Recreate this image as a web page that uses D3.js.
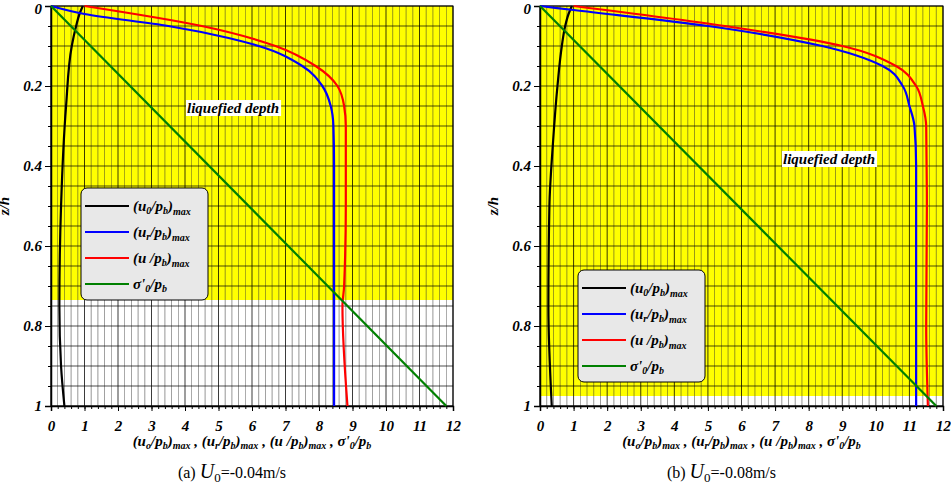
<!DOCTYPE html>
<html><head><meta charset="utf-8">
<script src="https://cdn.jsdelivr.net/npm/d3@7"></script>
<style>body{margin:0;background:#fff}text{font-family:"Liberation Serif","Times New Roman",serif}</style>
</head><body><svg id="c" width="951" height="494"></svg>
<script>
const xTicks=[0,1,2,3,4,5,6,7,8,9,10,11,12];
const yTicks=[0,0.2,0.4,0.6,0.8,1];
// panel (a)
const a_u0_z=[0,0.02,0.05,0.1,0.25,0.5,0.75,0.9,1];
const a_u0_x=[0.95,0.85,0.75,0.62,0.45,0.3,0.25,0.3,0.4];
const a_ur_z=[0,0.02,0.05,0.08,0.1,0.15,0.2,0.25,0.3,0.4,1];
const a_ur_x=[0,1.0,3.5,5.3,6.2,7.5,8.1,8.35,8.43,8.45,8.45];
const a_u_z=[0,0.05,0.1,0.15,0.2,0.25,0.3,0.5,0.7,0.75,1];
const a_u_x=[1.0,4.5,6.7,7.9,8.55,8.75,8.8,8.8,8.75,8.7,8.85];
const a_s_z=[0,1]; const a_s_x=[0,11.8];
const a_liq=0.735;
// panel (b)
const b_u0_z=[0,0.02,0.05,0.1,0.2,0.35,0.5,0.75,1];
const b_u0_x=[0.95,0.85,0.75,0.65,0.52,0.38,0.28,0.25,0.35];
const b_ur_z=[0,0.01,0.05,0.1,0.15,0.2,0.25,0.3,0.4,1];
const b_ur_x=[0,1.0,5.0,8.4,10.2,10.8,11.0,11.15,11.2,11.2];
const b_u_z=[0,0.05,0.1,0.15,0.2,0.25,0.3,0.5,0.8,1];
const b_u_x=[1.0,5.5,9.0,10.6,11.2,11.4,11.5,11.52,11.5,11.55];
const b_s_z=[0,1]; const b_s_x=[0,11.8];
const b_liq=0.975;

const svg=d3.select("#c");
function panel(x0,x1,d,cap,legPos,liqPos){
 const x=d3.scaleLinear().domain([0,12]).range([x0,x1]);
 const y=d3.scaleLinear().domain([0,1]).range([6,406]);
 const g=svg.append("g");
 g.append("rect").attr("x",x(0)).attr("y",y(0)).attr("width",x(12)-x(0)).attr("height",y(d.liq)-y(0)).attr("fill","#ffff00");
 for(let i=0;i<=60;i++){const v=i*0.2;g.append("line").attr("x1",x(v)).attr("x2",x(v)).attr("y1",y(0)).attr("y2",y(1)).attr("stroke",i%5==0?"#000":"#333").attr("stroke-width",i%5==0?0.9:0.6).attr("opacity",0.85);}
 for(let i=0;i<=20;i++){const v=i*0.05;g.append("line").attr("x1",x(0)).attr("x2",x(12)).attr("y1",y(v)).attr("y2",y(v)).attr("stroke","#000").attr("stroke-width",0.7);}
 g.append("rect").attr("x",x(0)).attr("y",y(0)).attr("width",x(12)-x(0)).attr("height",y(1)-y(0)).attr("fill","none").attr("stroke","#000").attr("stroke-width",1);
 const ax=g.append("g").attr("transform",`translate(0,${y(1)})`).call(d3.axisBottom(x).tickValues(xTicks).tickSize(5).tickFormat(d3.format("d")));
 g.append("g").attr("transform",`translate(0,${y(1)})`).call(d3.axisBottom(x).tickValues(d3.range(0,12.01,0.2)).tickSize(3).tickFormat("")).select(".domain").remove();
 const ay=g.append("g").attr("transform",`translate(${x(0)},0)`).call(d3.axisLeft(y).tickValues(yTicks).tickSize(6).tickFormat(v=>v==0?"0":v==1?"1":d3.format(".1f")(v)));
 g.append("g").attr("transform",`translate(${x(0)},0)`).call(d3.axisLeft(y).tickValues(d3.range(0,1.001,0.05)).tickSize(3).tickFormat("")).select(".domain").remove();
 g.selectAll(".tick text").attr("font-family","Liberation Serif").attr("font-size",15).attr("font-weight","bold").attr("font-style","italic").attr("fill","#000");
 ax.selectAll(".tick text").attr("dy","1.1em");
 ay.selectAll(".tick").filter(v=>v==0).select("text").attr("dy","0.5em");
 g.selectAll(".domain").attr("stroke","#000").attr("stroke-width",1.5);
 const line=d3.line().x(p=>x(p[0])).y(p=>y(p[1])).curve(d3.curveMonotoneY);
 const series=[[d.u0x,d.u0z,"#000"],[d.urx,d.urz,"#0000ff"],[d.ux,d.uz,"#ff0000"],[d.sx,d.sz,"#008000"]];
 series.forEach(s=>g.append("path").attr("d",line(s[0].map((v,i)=>[v,s[1][i]]))).attr("fill","none").attr("stroke",s[2]).attr("stroke-width",2.2));
 const lbg=g.append("rect").attr("fill","#fff");
 const lt=g.append("text").attr("x",liqPos[0]).attr("y",liqPos[1]).attr("font-size",15).attr("font-weight","bold").attr("font-style","italic").text("liquefied depth");
 const bb=lt.node().getBBox();
 lbg.attr("x",bb.x-1).attr("y",bb.y).attr("width",bb.width+3).attr("height",bb.height);
 const [lx,ly]=legPos;
 g.append("rect").attr("x",lx).attr("y",ly).attr("width",127).attr("height",112).attr("rx",6).attr("fill","#e8e8e8").attr("stroke","#000");
 const labs=[[["(u",15],["0",10,3],["/p",15,-3],["b",10,3],[")",15,-3],["max",10,4]],
  [["(u",15],["r",10,3],["/p",15,-3],["b",10,3],[")",15,-3],["max",10,4]],
  [["(u /p",15],["b",10,3],[")",15,-3],["max",10,4]],
  [["σ'",15],["0",10,3],["/p",15,-3],["b",10,3]]];
 const cols=["#000","#0000ff","#ff0000","#008000"];
 labs.forEach((l,i)=>{const yy=ly+18+i*26;g.append("line").attr("x1",lx+4).attr("x2",lx+48).attr("y1",yy).attr("y2",yy).attr("stroke",cols[i]).attr("stroke-width",2.2);
  const t=g.append("text").attr("x",lx+52).attr("y",yy+5).attr("font-weight","bold").attr("font-style","italic");
  l.forEach(p=>{const s=t.append("tspan").text(p[0]).attr("font-size",p[1]);if(p[2])s.attr("dy",p[2]);});});
 const xl=g.append("text").attr("x",(x0+x1)/2).attr("y",446).attr("text-anchor","middle").attr("font-weight","bold").attr("font-style","italic");
 [["(u",15],["o",10,3],["/p",15,-3],["b",10,3],[")",15,-3],["max",10,3],[" , (u",15,-3],["r",10,3],["/p",15,-3],["b",10,3],[")",15,-3],["max",10,3],[" , (u /p",15,-3],["b",10,3],[")",15,-3],["max",10,3],[" , σ'",15,-3],["0",10,3],["/p",15,-3],["b",10,3]].forEach(p=>{const s=xl.append("tspan").text(p[0]).attr("font-size",p[1]);if(p[2])s.attr("dy",p[2]);});
 g.append("text").attr("transform",`translate(${x0-42},206) rotate(-90)`).attr("text-anchor","middle").attr("font-size",15).attr("font-weight","bold").attr("font-style","italic").text("z/h");
 const c=g.append("text").attr("x",(x0+x1)/2-20).attr("y",478).attr("text-anchor","middle").attr("font-size",16);
 c.append("tspan").text(cap[0]+"   ");c.append("tspan").text("U").attr("font-style","italic").attr("font-size",20);c.append("tspan").text("0").attr("font-size",13).attr("dy",4);c.append("tspan").text(cap[1]).attr("dy",-4);
}
panel(51,453,{u0x:a_u0_x,u0z:a_u0_z,urx:a_ur_x,urz:a_ur_z,ux:a_u_x,uz:a_u_z,sx:a_s_x,sz:a_s_z,liq:a_liq},["(a)","=-0.04m/s"],[81,188],[187,113]);
panel(540,943,{u0x:b_u0_x,u0z:b_u0_z,urx:b_ur_x,urz:b_ur_z,ux:b_u_x,uz:b_u_z,sx:b_s_x,sz:b_s_z,liq:b_liq},["(b)","=-0.08m/s"],[578,270],[783,164]);
</script></body></html>
